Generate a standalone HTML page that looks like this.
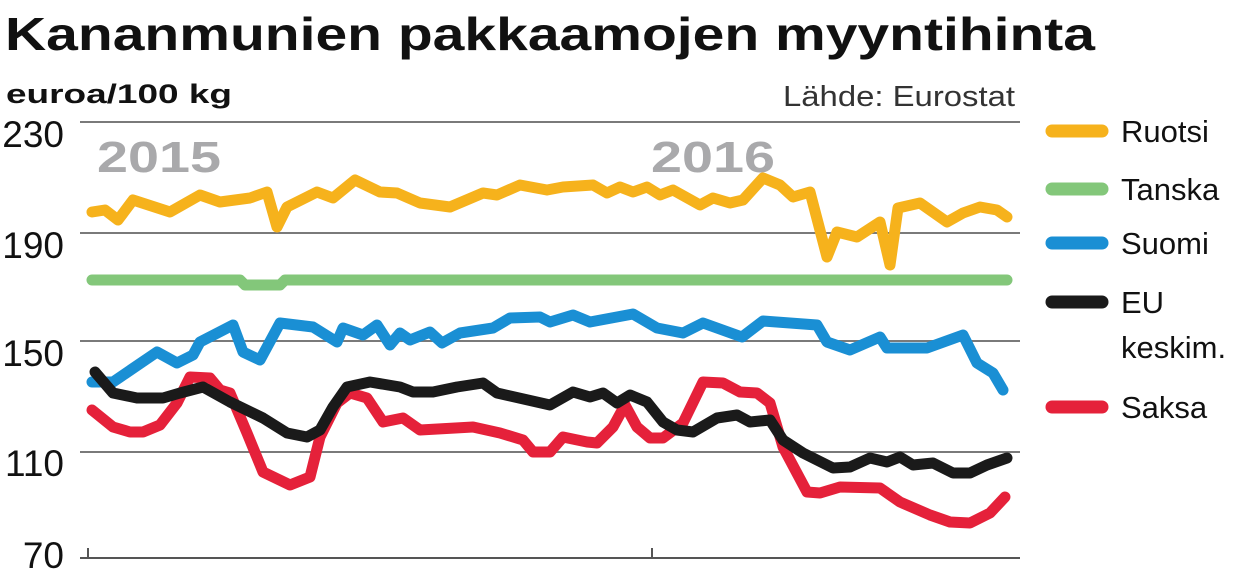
<!DOCTYPE html>
<html><head><meta charset="utf-8"><style>
body{margin:0;background:#fff;}
svg{display:block;font-family:"Liberation Sans",sans-serif;}
</style></head><body>
<svg width="1240" height="569" viewBox="0 0 1240 569">
<text x="5" y="50" font-size="46" font-weight="bold" textLength="1090" lengthAdjust="spacingAndGlyphs" fill="#111">Kananmunien pakkaamojen myyntihinta</text>
<text x="6" y="103" font-size="27" font-weight="bold" textLength="226" lengthAdjust="spacingAndGlyphs" fill="#111">euroa/100 kg</text>
<text x="1015" y="106" font-size="29" text-anchor="end" textLength="232" lengthAdjust="spacingAndGlyphs" fill="#333">Lähde: Eurostat</text>
<g stroke="#7a7a7a" stroke-width="2">
<line x1="80" y1="122" x2="1020" y2="122"/><line x1="80" y1="233" x2="1020" y2="233"/>
<line x1="80" y1="341" x2="1020" y2="341"/><line x1="80" y1="452" x2="1020" y2="452"/>
<line x1="80" y1="558" x2="1020" y2="558" stroke="#555"/>
<line x1="88" y1="548" x2="88" y2="558" stroke="#555"/><line x1="652" y1="548" x2="652" y2="558" stroke="#555"/>
</g>
<g font-size="37" fill="#111" text-anchor="end">
<text x="64" y="147">230</text><text x="64" y="258">190</text><text x="64" y="366">150</text><text x="64" y="476">110</text><text x="64" y="568">70</text>
</g>
<g font-size="44" font-weight="bold" fill="#a9a9ab">
<text x="97" y="172" textLength="124" lengthAdjust="spacingAndGlyphs">2015</text>
<text x="651" y="172" textLength="124" lengthAdjust="spacingAndGlyphs">2016</text>
</g>
<g fill="none" stroke-width="11" stroke-linejoin="round" stroke-linecap="round">
<polyline stroke="#83c77a" points="92,280 240,280 245,285 280,285 285,280 1007,280"/>
<polyline stroke="#f6b21c" points="92,212 105,210 118,220 133,200 170,212 200,195 220,202 250,198 267,192 277,227 287,207 317,192 333,198 355,180 380,192 397,193 420,203 450,207 483,193 497,195 520,185 547,190 563,187 593,185 607,193 620,187 633,192 647,187 660,195 673,190 700,205 713,198 730,203 743,200 763,178 780,185 793,197 810,192 827,257 837,232 857,237 880,222 890,265 898,208 920,203 947,222 963,213 980,207 997,210 1007,217"/>
<polyline stroke="#1a8fd4" points="92,382 113,382 157,352 177,363 193,355 200,342 233,325 243,352 260,360 280,323 313,327 337,342 343,328 363,335 377,325 390,345 400,333 410,340 430,332 442,343 460,333 493,328 510,318 540,317 550,322 573,315 590,322 633,314 657,328 683,333 703,323 742,337 763,321 817,325 827,342 850,350 880,337 887,348 927,348 963,335 977,363 993,373 1003,390"/>
<polyline stroke="#e5213a" points="92,410 113,427 130,432 143,432 160,425 177,403 190,377 210,378 220,390 230,393 247,433 263,472 290,485 310,477 320,437 337,403 350,393 367,398 383,422 403,418 420,430 473,427 500,433 523,440 533,452 550,452 563,437 587,442 597,443 613,427 625,405 637,427 650,438 663,438 683,423 703,382 723,383 740,392 757,393 770,403 783,447 807,492 820,493 840,487 880,488 900,502 930,515 950,522 970,523 990,513 1005,497"/>
<polyline stroke="#1a1a1a" points="95,372 113,393 137,398 163,398 180,393 203,387 230,402 263,418 287,433 307,437 320,430 333,407 347,387 370,382 400,387 413,392 433,392 457,387 483,383 497,393 550,405 573,392 590,397 603,393 617,403 630,395 647,402 663,422 677,430 693,432 717,418 737,415 750,422 770,420 783,440 803,453 833,468 850,467 870,458 887,462 900,457 913,465 933,463 953,473 970,473 987,465 1007,458"/>
</g>
<g stroke-width="13" stroke-linecap="round">
<line x1="1052" y1="131" x2="1102" y2="131" stroke="#f6b21c"/>
<line x1="1052" y1="189" x2="1102" y2="189" stroke="#83c77a"/>
<line x1="1052" y1="243" x2="1102" y2="243" stroke="#1a8fd4"/>
<line x1="1052" y1="302" x2="1102" y2="302" stroke="#1a1a1a"/>
<line x1="1052" y1="407" x2="1102" y2="407" stroke="#e5213a"/>
</g>
<g font-size="31" fill="#111">
<text x="1121" y="142">Ruotsi</text>
<text x="1121" y="200">Tanska</text>
<text x="1121" y="254">Suomi</text>
<text x="1121" y="313">EU</text>
<text x="1121" y="358">keskim.</text>
<text x="1121" y="418">Saksa</text>
</g>
</svg>
</body></html>
